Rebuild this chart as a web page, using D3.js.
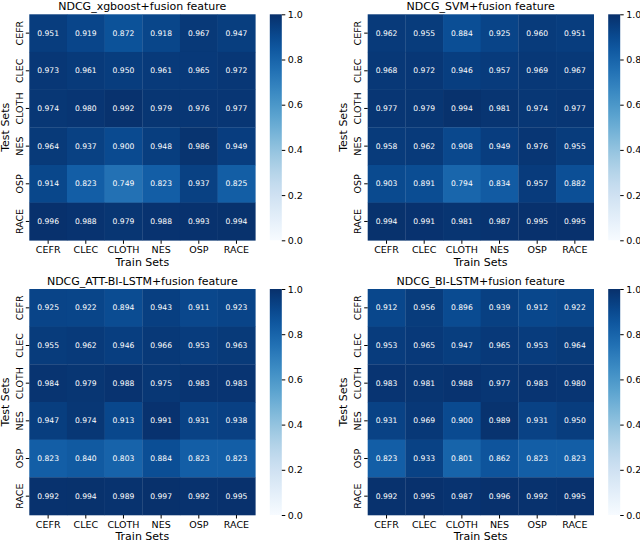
<!DOCTYPE html>
<html>
<head>
<meta charset="utf-8">
<script src="https://cdn.jsdelivr.net/npm/d3@7"></script>
<style>
  body { margin: 0; background: #fff; }
  svg text { font-family: "DejaVu Sans", sans-serif; }
</style>
</head>
<body>
<div id="chart"></div>
<script>
// categories (train sets on x, test sets on y)
const trainSets = ["CEFR", "CLEC", "CLOTH", "NES", "OSP", "RACE"];
const testSets = ["CEFR", "CLEC", "CLOTH", "NES", "OSP", "RACE"];
const cbarTicks = [0, 0.2, 0.4, 0.6, 0.8, 1.0];

// rows = test set, columns = train set
const xgboostVals = [
  [0.951, 0.919, 0.872, 0.918, 0.967, 0.947],
  [0.973, 0.961, 0.950, 0.961, 0.965, 0.972],
  [0.974, 0.980, 0.992, 0.979, 0.976, 0.977],
  [0.964, 0.937, 0.900, 0.948, 0.986, 0.949],
  [0.914, 0.823, 0.749, 0.823, 0.937, 0.825],
  [0.996, 0.988, 0.979, 0.988, 0.993, 0.994]
];
const svmVals = [
  [0.962, 0.955, 0.884, 0.925, 0.960, 0.951],
  [0.968, 0.972, 0.946, 0.957, 0.969, 0.967],
  [0.977, 0.979, 0.994, 0.981, 0.974, 0.977],
  [0.958, 0.962, 0.908, 0.949, 0.976, 0.955],
  [0.903, 0.891, 0.794, 0.834, 0.957, 0.882],
  [0.994, 0.991, 0.981, 0.987, 0.995, 0.995]
];
const attBiLstmVals = [
  [0.925, 0.922, 0.894, 0.943, 0.911, 0.923],
  [0.955, 0.962, 0.946, 0.966, 0.953, 0.963],
  [0.984, 0.979, 0.988, 0.975, 0.983, 0.983],
  [0.947, 0.974, 0.913, 0.991, 0.931, 0.938],
  [0.823, 0.840, 0.803, 0.884, 0.823, 0.823],
  [0.992, 0.994, 0.989, 0.997, 0.992, 0.995]
];
const biLstmVals = [
  [0.912, 0.956, 0.896, 0.939, 0.912, 0.922],
  [0.953, 0.965, 0.947, 0.965, 0.953, 0.964],
  [0.983, 0.981, 0.988, 0.977, 0.983, 0.980],
  [0.931, 0.969, 0.900, 0.989, 0.931, 0.950],
  [0.823, 0.933, 0.801, 0.862, 0.823, 0.823],
  [0.992, 0.995, 0.987, 0.996, 0.992, 0.995]
];

const panels = [
  {title: "NDCG_xgboost+fusion feature", vals: xgboostVals, x: 29.3, y: 14.3},
  {title: "NDCG_SVM+fusion feature", vals: svmVals, x: 367.7, y: 14.3},
  {title: "NDCG_ATT-BI-LSTM+fusion feature", vals: attBiLstmVals, x: 29.3, y: 289},
  {title: "NDCG_BI-LSTM+fusion feature", vals: biLstmVals, x: 367.7, y: 289}
];

const size = 226;       // heatmap width/height
const cbarGap = 240.5;  // heatmap left -> colorbar left
const cbarW = 12;

const color = d3.scaleSequential(d3.interpolateBlues).domain([0, 1]);

const svg = d3.select("#chart")
  .append("svg")
  .attr("width", 640)
  .attr("height", 543);

// gradient for the colorbars
const grad = svg.append("defs").append("linearGradient")
  .attr("id", "blues")
  .attr("x1", 0).attr("y1", 1).attr("x2", 0).attr("y2", 0);
d3.range(0, 1.0001, 0.05).forEach(t => {
  grad.append("stop").attr("offset", t).attr("stop-color", color(t));
});

panels.forEach(p => {
  const g = svg.append("g").attr("transform", `translate(${p.x},${p.y})`);

  const x = d3.scaleBand().domain(trainSets).range([0, size]);
  const y = d3.scaleBand().domain(testSets).range([0, size]);

  const cells = [];
  p.vals.forEach((row, i) => row.forEach((v, j) => {
    cells.push({test: testSets[i], train: trainSets[j], v: v});
  }));

  g.selectAll("rect.cell")
    .data(cells)
    .enter()
    .append("rect")
    .attr("class", "cell")
    .attr("x", d => x(d.train))
    .attr("y", d => y(d.test))
    .attr("width", x.bandwidth() + 0.3)
    .attr("height", y.bandwidth() + 0.3)
    .attr("fill", d => color(d.v));

  g.selectAll("text.val")
    .data(cells)
    .enter()
    .append("text")
    .attr("class", "val")
    .attr("x", d => x(d.train) + x.bandwidth() / 2)
    .attr("y", d => y(d.test) + y.bandwidth() / 2)
    .attr("dy", "0.35em")
    .attr("text-anchor", "middle")
    .attr("fill", "#fff")
    .style("font-size", "7.6px")
    .text(d => d3.format(".3f")(d.v));

  // x axis
  const xAxis = g.append("g")
    .attr("transform", `translate(0,${size})`)
    .call(d3.axisBottom(x).tickSize(3.5).tickSizeOuter(0).tickPadding(2.5));
  xAxis.select(".domain").remove();
  xAxis.selectAll("text").style("font-size", "9.5px").attr("fill", "#000");

  // y axis, rotated labels
  const yAxis = g.append("g")
    .call(d3.axisLeft(y).tickSize(3.5).tickSizeOuter(0));
  yAxis.select(".domain").remove();
  yAxis.selectAll("text")
    .attr("x", null).attr("dy", null)
    .attr("transform", "translate(-6.6,0) rotate(-90)")
    .attr("text-anchor", "middle")
    .style("font-size", "9.5px")
    .attr("fill", "#000");

  // titles
  g.append("text")
    .attr("x", size / 2)
    .attr("y", -4.3)
    .attr("text-anchor", "middle")
    .style("font-size", "11px")
    .text(p.title);

  g.append("text")
    .attr("x", size / 2)
    .attr("y", size + 25.3)
    .attr("text-anchor", "middle")
    .style("font-size", "11px")
    .text("Train Sets");

  g.append("text")
    .attr("transform", `translate(-20.3,${size / 2}) rotate(-90)`)
    .attr("text-anchor", "middle")
    .style("font-size", "11px")
    .text("Test Sets");

  // colorbar
  const cb = g.append("g").attr("transform", `translate(${cbarGap},0)`);
  cb.append("rect")
    .attr("width", cbarW)
    .attr("height", size)
    .attr("fill", "url(#blues)");
  const cbScale = d3.scaleLinear().domain([0, 1]).range([size, 0]);
  const cbAxis = cb.append("g")
    .attr("transform", `translate(${cbarW},0)`)
    .call(d3.axisRight(cbScale).tickValues(cbarTicks).tickFormat(d3.format(".1f"))
      .tickSize(3.5).tickPadding(2.5));
  cbAxis.select(".domain").remove();
  cbAxis.selectAll("text").style("font-size", "9.5px").attr("fill", "#000");
});
</script>
</body>
</html>
